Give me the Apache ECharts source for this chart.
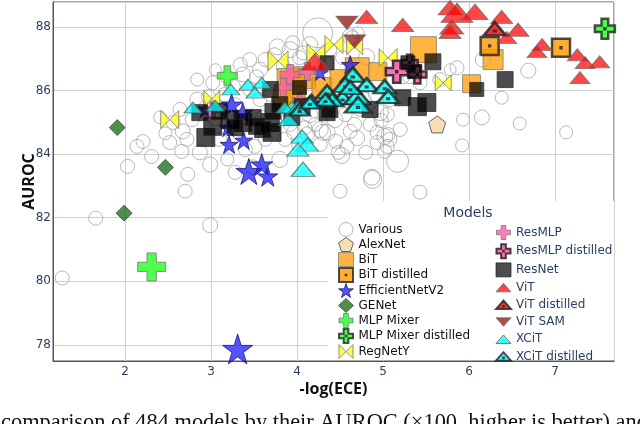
<!DOCTYPE html>
<html><head><meta charset="utf-8">
<script src="https://cdn.jsdelivr.net/npm/echarts@6/dist/echarts.min.js"></script>
<style>html,body{margin:0;padding:0;background:#fff}#c{width:640px;height:424px}</style>
</head><body><div id="c"></div>
<script>
// [ -log(ECE), AUROC, marker size ]
const various = [[1.27,80.10,14],[1.66,81.98,14],[2.99,81.76,15],[2.03,83.61,14],[2.21,84.39,14],[2.14,84.24,14],[2.31,83.92,14],[2.52,84.36,14],[2.70,82.83,14],[2.73,83.36,14],[2.72,84.46,14],[2.66,84.08,14],[2.99,83.67,15],[3.28,83.42,14],[2.87,84.05,15],[3.10,84.46,14],[3.51,84.24,14],[3.49,83.58,15],[3.80,83.83,16],[3.19,83.83,13],[2.56,84.99,14],[2.67,84.71,15],[2.64,85.40,14],[2.84,85.71,15],[2.97,85.81,14],[3.02,86.24,14],[3.19,86.43,14],[3.37,86.50,15],[3.53,86.43,14],[3.77,87.37,16],[3.92,87.28,16],[4.03,87.03,14],[4.24,87.81,30],[3.84,86.75,14],[3.57,86.65,15],[3.26,86.12,14],[3.95,87.50,14],[4.07,87.18,14],[4.62,87.69,16],[4.71,87.81,12],[4.81,87.06,16],[4.53,87.03,14],[4.64,87.66,14],[4.77,85.71,16],[4.97,85.30,16],[5.05,85.24,14],[5.20,84.77,14],[4.93,84.68,14],[5.02,84.55,16],[5.08,84.46,14],[5.05,84.24,14],[5.17,83.77,22],[5.02,84.08,14],[4.48,84.05,14],[4.58,84.24,14],[4.35,84.68,16],[4.62,84.71,14],[4.50,82.83,14],[4.88,83.20,18],[5.43,82.80,14],[5.92,84.27,13],[5.93,85.08,13],[6.15,85.15,15],[6.59,84.96,13],[7.13,84.68,13],[6.69,86.62,15],[6.16,86.97,15],[6.38,85.77,13],[5.86,86.71,14],[5.66,86.34,14],[5.43,86.24,14],[5.31,86.43,14],[5.78,86.65,12],[5.23,86.43,14],[4.30,84.68,16],[4.87,83.27,16],[4.27,84.77,16],[4.21,84.93,14],[5.06,84.61,14],[4.93,84.36,14],[3.28,85.55,14],[3.57,85.71,14],[3.80,85.40,14],[4.15,85.24,16],[4.38,85.55,14],[4.56,85.24,14],[3.92,84.93,14],[3.63,84.46,14],[3.34,84.77,14],[4.27,84.30,14],[4.67,84.93,14],[3.16,85.87,14],[3.45,86.03,14],[3.69,85.87,14],[4.09,84.83,14],[4.44,85.08,16],[4.73,85.40,14],[4.91,85.87,14],[5.08,85.71,14],[4.85,84.93,14],[4.03,84.30,16],[3.86,84.46,14],[3.40,84.14,14],[3.74,85.08,14],[3.63,86.97,14],[3.74,87.12,14],[4.15,87.44,16],[4.38,87.28,14],[4.33,86.81,16],[3.45,86.97,14],[3.34,86.81,14],[3.05,86.65,12],[2.84,86.34,13],[2.93,85.46,13],[2.78,85.08,14],[2.47,84.65,13],[2.41,85.15,13],[4.12,84.62,15],[4.45,84.40,14],[4.70,84.50,15],[3.96,84.68,14],[4.52,83.95,16],[4.80,84.05,14],[3.60,85.15,14],[3.05,85.10,14],[4.98,85.05,14]];
const alexnet = [[5.63,84.93,17]];
const bit = [[3.92,86.28,26],[4.09,86.40,22],[4.29,86.09,20],[3.98,85.81,20],[3.84,85.71,20],[4.50,86.34,20],[4.70,86.65,24],[5.47,87.28,26],[6.03,86.21,18],[6.28,86.97,20],[4.94,86.59,18]];
const bitDistilled = [[6.24,87.40,18],[7.07,87.34,18]];
const effnetv2 = [[3.24,85.55,22],[3.37,85.30,20],[2.93,85.40,16],[3.20,84.83,18],[3.38,84.43,18],[3.21,84.30,18],[3.44,83.45,26],[3.59,83.67,22],[3.66,83.30,20],[3.31,77.87,30],[4.62,86.81,18],[4.27,86.56,16]];
const genet = [[1.91,84.83,16],[2.47,83.58,16],[1.99,82.14,16]];
const mlpMixer = [[3.19,86.46,20],[2.31,80.45,28]];
const mlpMixerDistilled = [[7.58,87.94,20]];
const regnety = [[2.52,85.08,18],[3.01,85.74,16],[3.78,86.93,20],[4.22,87.18,18],[4.43,87.44,18],[4.67,87.37,16],[5.06,87.03,18],[5.70,86.24,16]];
const resmlp = [[3.92,86.50,20],[4.12,86.59,18],[3.84,86.09,18],[3.02,85.40,16],[4.03,85.71,14]];
const resmlpDistilled = [[5.16,86.59,22],[5.40,86.50,18],[5.31,86.87,16]];
const resnet = [[2.94,84.52,18],[3.02,84.87,18],[3.22,85.08,18],[3.37,84.99,18],[3.49,85.15,16],[3.69,84.99,18],[3.71,84.68,18],[3.72,85.34,16],[3.69,86.03,16],[4.06,85.49,16],[3.53,84.87,16],[2.87,85.30,16],[3.10,85.34,16],[3.28,84.83,16],[3.60,84.77,16],[4.35,85.30,16],[6.42,86.34,16],[6.09,86.03,14],[5.51,85.62,18],[5.40,85.49,18],[5.23,85.77,16],[5.58,86.90,16],[5.29,86.87,14],[4.35,86.87,14],[4.85,85.40,16],[4.38,85.40,16],[3.80,85.55,16],[4.03,86.09,14],[5.37,86.59,14],[3.94,85.15,16]];
const vit = [[4.81,88.31,22],[5.23,88.06,22],[5.78,88.60,24],[5.86,88.44,32],[6.07,88.47,26],[6.38,88.31,22],[5.80,88.00,24],[5.78,87.84,22],[6.57,87.91,22],[6.44,87.66,20],[6.85,87.44,20],[6.79,87.22,20],[7.26,87.12,20],[7.35,86.87,20],[7.52,86.90,20],[7.29,86.40,20],[4.21,86.90,28]];
const vitDistilled = [[6.30,87.94,22]];
const vitSam = [[4.58,88.13,22],[4.67,87.54,22]];
const xcit = [[2.79,85.46,18],[3.05,85.52,18],[3.23,86.03,18],[3.43,86.18,18],[3.59,86.24,18],[3.51,85.93,18],[3.90,85.08,20],[3.94,85.46,20],[3.86,85.46,18],[4.01,85.49,18],[4.06,84.55,22],[4.12,84.30,22],[4.01,84.14,22],[4.07,83.52,24]];
const xcitDistilled = [[4.65,86.50,24],[4.56,86.18,24],[4.81,86.18,22],[4.35,85.96,22],[4.17,85.65,22],[4.53,85.77,22],[4.70,85.81,26],[4.41,85.71,22],[4.62,86.09,22],[5.02,86.12,22],[5.06,85.81,22],[4.33,85.71,20],[4.03,85.40,20],[4.15,85.62,20],[4.71,85.55,26]];

const SYM = {
  pentagon: 'path://M10,0L19.51,6.91L15.88,18.09L4.12,18.09L0.49,6.91Z',
  squareDot: 'path://M0,0H20V20H0Z M9.5,9.5V10.5H10.5V9.5Z',
  star: 'path://M10,0L12.245,6.91L19.511,6.91L13.633,11.18L15.878,18.09L10,13.82L4.122,18.09L6.367,11.18L0.489,6.91L7.755,6.91Z',
  cross: 'path://M7,0H14V7H21V14H14V21H7V14H0V7H7Z',
  crossDot: 'path://M7,0H14V7H21V14H14V21H7V14H0V7H7Z M10,10V11H11V10Z',
  bowtie: 'path://M20,20L0,0V20L20,0Z',
  tri: 'path://M0,13L11.5,0L23,13Z',
  triDot: 'path://M0,13L11.5,0L23,13Z M11,8.2V9.2H12V8.2Z',
  triDown: 'path://M0,0L23,0L11.5,13Z'
};
const sq = v => v[2];
const tr = v => [v[2], v[2] * 0.6];
function sc(name, data, symbol, style, sizeFn) {
  return { type: 'scatter', name, data, symbol, symbolSize: sizeFn || sq,
    itemStyle: style, emphasis: { disabled: true }, animation: false };
}
const plain = (c, o, b) => ({ color: c, opacity: o, borderColor: b || '#666', borderWidth: 1 });
const dist = (c, o) => ({ color: c, opacity: o, borderColor: '#222', borderWidth: 2.5 });

const series = [
  sc('Various', various, 'circle', { color: 'rgba(0,0,0,0)', borderColor: '#a6a6a6', borderWidth: 1 }),
  sc('AlexNet', alexnet, SYM.pentagon, plain('#f5deb3', 1, '#666')),
  sc('BiT', bit, 'rect', plain('#ff9900', 0.75, '#777')),
  sc('BiT distilled', bitDistilled, SYM.squareDot, dist('#ff9900', 0.8)),
  sc('EfficientNetV2', effnetv2, SYM.star, plain('#1a1aff', 0.75, '#101070')),
  sc('GENet', genet, 'diamond', plain('#0b620b', 0.72, '#2a4a2a')),
  sc('MLP Mixer', mlpMixer, SYM.cross, plain('#22ff22', 0.8, '#777')),
  sc('MLP Mixer distilled', mlpMixerDistilled, SYM.crossDot, dist('#22ff22', 0.8)),
  sc('RegNetY', regnety, SYM.bowtie, plain('#ffff1a', 0.8, '#777')),
  sc('ResMLP', resmlp, SYM.cross, plain('#ff5aa8', 0.8, '#777')),
  sc('ResMLP distilled', resmlpDistilled, SYM.crossDot, dist('#ff5aa8', 0.85)),
  sc('ResNet', resnet, 'rect', plain('#000000', 0.7, '#222')),
  sc('ViT', vit, SYM.tri, plain('#ff0000', 0.72, '#666'), tr),
  sc('ViT distilled', vitDistilled, SYM.triDot, dist('#ff0000', 0.8), tr),
  sc('ViT SAM', vitSam, SYM.triDown, plain('#8b0000', 0.7, '#666'), tr),
  sc('XCiT', xcit, SYM.tri, plain('#00ffff', 0.75, '#555'), tr),
  sc('XCiT distilled', xcitDistilled, SYM.triDot, dist('#00ffff', 0.8), tr)
];

const col1 = ['Various','AlexNet','BiT','BiT distilled','EfficientNetV2','GENet','MLP Mixer','MLP Mixer distilled','RegNetY'];
const col2 = ['ResMLP','ResMLP distilled','ResNet','ViT','ViT distilled','ViT SAM','XCiT','XCiT distilled'];
const legendItem = n => ({ name: n, itemStyle: { borderWidth: n.indexOf('distilled') >= 0 ? 2 : 1 } });

const chart = echarts.init(document.getElementById('c'), null, { renderer: 'canvas' });
chart.setOption({
  animation: false,
  backgroundColor: '#fff',
  grid: { left: 53, right: 26, top: 2, bottom: 63, show: true, borderColor: '#555', borderWidth: 1, backgroundColor: 'transparent', containLabel: false },
  xAxis: {
    type: 'value', min: 1.163, max: 7.686,
    name: '-log(ECE)', nameLocation: 'middle', nameGap: 20, nameMoveOverlap: false,
    nameTextStyle: { fontFamily: 'Open Sans', fontWeight: 'bold', fontSize: 16, color: '#111' },
    axisLine: { show: true, lineStyle: { color: '#555' } }, axisTick: { show: false },
    axisLabel: { showMinLabel: false, showMaxLabel: false, margin: 5, color: '#2a3f5f', fontFamily: 'DejaVu Sans', fontSize: 12 },
    splitLine: { show: true, lineStyle: { color: '#cfcfcf', width: 1 } }
  },
  yAxis: {
    type: 'value', min: 77.49, max: 88.78,
    name: 'AUROC', nameLocation: 'middle', nameGap: 16, nameMoveOverlap: false,
    nameTextStyle: { fontFamily: 'Open Sans', fontWeight: 'bold', fontSize: 16, color: '#111' },
    axisLine: { show: true, lineStyle: { color: '#555' } }, axisTick: { show: false },
    axisLabel: { showMinLabel: false, showMaxLabel: false, margin: 2, color: '#2a3f5f', fontFamily: 'DejaVu Sans', fontSize: 12 },
    splitLine: { show: true, lineStyle: { color: '#cfcfcf', width: 1 } }
  },
  legend: [
    { data: col1.map(legendItem), orient: 'vertical', left: 338, top: 222, padding: 0, itemGap: 0,
      itemWidth: 15, itemHeight: 14, selectedMode: false, z: 20,
      textStyle: { fontFamily: 'DejaVu Sans', fontSize: 12, lineHeight: 14, color: '#111' } },
    { data: col2.map(legendItem), orient: 'vertical', left: 495, top: 225, padding: 0, itemGap: 3.2,
      itemWidth: 15, itemHeight: 14, selectedMode: false, z: 20,
      textStyle: { fontFamily: 'DejaVu Sans', fontSize: 12, lineHeight: 14, color: '#2a3f5f' } }
  ],
  graphic: { elements: [
    { type: 'rect', left: 328, top: 201, z: 10, shape: { width: 286, height: 159 }, style: { fill: '#fff' } },
    { type: 'text', x: 468, y: 213, z: 11, style: { text: 'Models', fontFamily: 'DejaVu Sans', fontSize: 14, fill: '#2a3f5f', textAlign: 'center', textVerticalAlign: 'middle' } },
    { type: 'text', x: 1, y: 423, z: 11, style: { text: 'comparison of 484 models by their AUROC (×100, higher is better) and', fontFamily: 'Liberation Serif', fontSize: 22.4, fill: '#111', textAlign: 'left', textVerticalAlign: 'middle' } }
  ] },
  series: series
});
</script>
</body></html>
